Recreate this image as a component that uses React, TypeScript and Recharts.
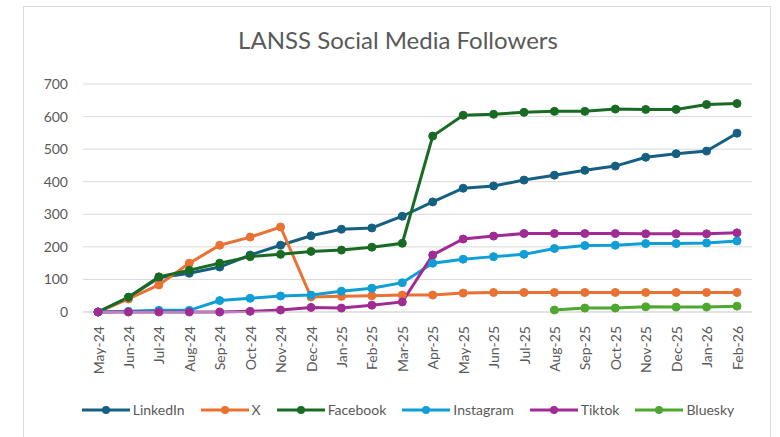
import { LineChart, Line, XAxis, YAxis, CartesianGrid } from "recharts";

const months = [
  "May-24", "Jun-24", "Jul-24", "Aug-24", "Sep-24", "Oct-24", "Nov-24", "Dec-24",
  "Jan-25", "Feb-25", "Mar-25", "Apr-25", "May-25", "Jun-25", "Jul-25", "Aug-25",
  "Sep-25", "Oct-25", "Nov-25", "Dec-25", "Jan-26", "Feb-26",
];

const linkedin = [0, 45, 105, 119, 138, 175, 205, 234, 254, 258, 294, 338, 380, 387, 405, 420, 435, 448, 475, 486, 494, 549];
const x = [0, 40, 83, 150, 205, 230, 261, 46, 48, 50, 52, 52, 58, 60, 60, 60, 60, 60, 60, 60, 60, 60];
const facebook = [0, 45, 108, 128, 150, 170, 177, 186, 190, 199, 211, 540, 604, 607, 613, 616, 616, 623, 622, 622, 637, 640];
const instagram = [0, 2, 5, 5, 35, 42, 49, 52, 64, 73, 90, 150, 162, 170, 177, 195, 204, 205, 210, 210, 212, 218];
const tiktok = [0, 0, 0, 0, 0, 2, 6, 14, 12, 21, 31, 175, 224, 233, 241, 241, 241, 241, 240, 240, 240, 243];
const bluesky: (number | null)[] = [null, null, null, null, null, null, null, null, null, null, null, null, null, null, null, 6, 12, 12, 16, 15, 15, 18];

const yTicks = [0, 100, 200, 300, 400, 500, 600, 700];

const series = [
  { key: "LinkedIn", color: "#156082", values: linkedin },
  { key: "X", color: "#E97132", values: x },
  { key: "Facebook", color: "#196B24", values: facebook },
  { key: "Instagram", color: "#0F9ED5", values: instagram },
  { key: "Tiktok", color: "#A02B93", values: tiktok },
  { key: "Bluesky", color: "#4EA72E", values: bluesky },
];

const data = months.map((m, i) => {
  const row: Record<string, any> = { month: m };
  series.forEach((s) => {
    row[s.key] = s.values[i];
  });
  return row;
});

const FONT = "Lato, 'Open Sans', sans-serif";

const XTick = (props: any) => {
  const { x, y, payload } = props;
  return (
    <text
      transform={`translate(${x},${y + 6}) rotate(-90)`}
      textAnchor="end"
      dominantBaseline="central"
      fill="#595959"
      fontSize={14}
      fontFamily={FONT}
    >
      {payload.value}
    </text>
  );
};

export default function App() {
  return (
    <div
      style={{
        position: "fixed",
        left: 0,
        top: 0,
        width: 780,
        height: 437,
        background: "#fff",
        fontFamily: FONT,
      }}
    >
      <div
        style={{
          position: "absolute",
          left: 23,
          top: 6,
          width: 748,
          height: 440,
          border: "1px solid #d9d9d9",
          boxSizing: "border-box",
        }}
      />
      <div
        style={{
          position: "absolute",
          top: 25,
          left: 0,
          width: 796,
          textAlign: "center",
          fontSize: 24,
          color: "#595959",
        }}
      >
        LANSS Social Media Followers
      </div>
      <div style={{ position: "absolute", left: 0, top: 0 }}>
        <LineChart
          width={780}
          height={437}
          data={data}
          margin={{ top: 84, right: 28, left: 15, bottom: 65 }}
        >
          <CartesianGrid vertical={false} stroke="#d9d9d9" />
          <XAxis
            dataKey="month"
            interval={0}
            height={60}
            padding={{ left: 15, right: 15 }}
            tick={<XTick />}
            tickLine={false}
            axisLine={{ stroke: "#d9d9d9" }}
          />
          <YAxis
            domain={[0, 700]}
            ticks={yTicks}
            width={68}
            tickLine={false}
            axisLine={false}
            tickMargin={9}
            tick={{ fill: "#595959", fontSize: 14, fontFamily: FONT }}
          />
          {series.map((s) => (
            <Line
              key={s.key}
              dataKey={s.key}
              stroke={s.color}
              strokeWidth={3}
              dot={{ r: 4, fill: s.color, stroke: s.color, strokeWidth: 1 }}
              isAnimationActive={false}
              connectNulls={false}
            />
          ))}
        </LineChart>
      </div>
      <div
        style={{
          position: "absolute",
          top: 401,
          left: 8,
          width: 800,
          display: "flex",
          justifyContent: "center",
          gap: 16,
          fontSize: 14,
          color: "#595959",
        }}
      >
        {series.map((s) => (
          <div key={s.key} style={{ display: "flex", alignItems: "center", gap: 3 }}>
            <svg width={48} height={12}>
              <line x1={0} y1={6} x2={48} y2={6} stroke={s.color} strokeWidth={3} />
              <circle cx={24} cy={6} r={4} fill={s.color} />
            </svg>
            <span>{s.key}</span>
          </div>
        ))}
      </div>
    </div>
  );
}
